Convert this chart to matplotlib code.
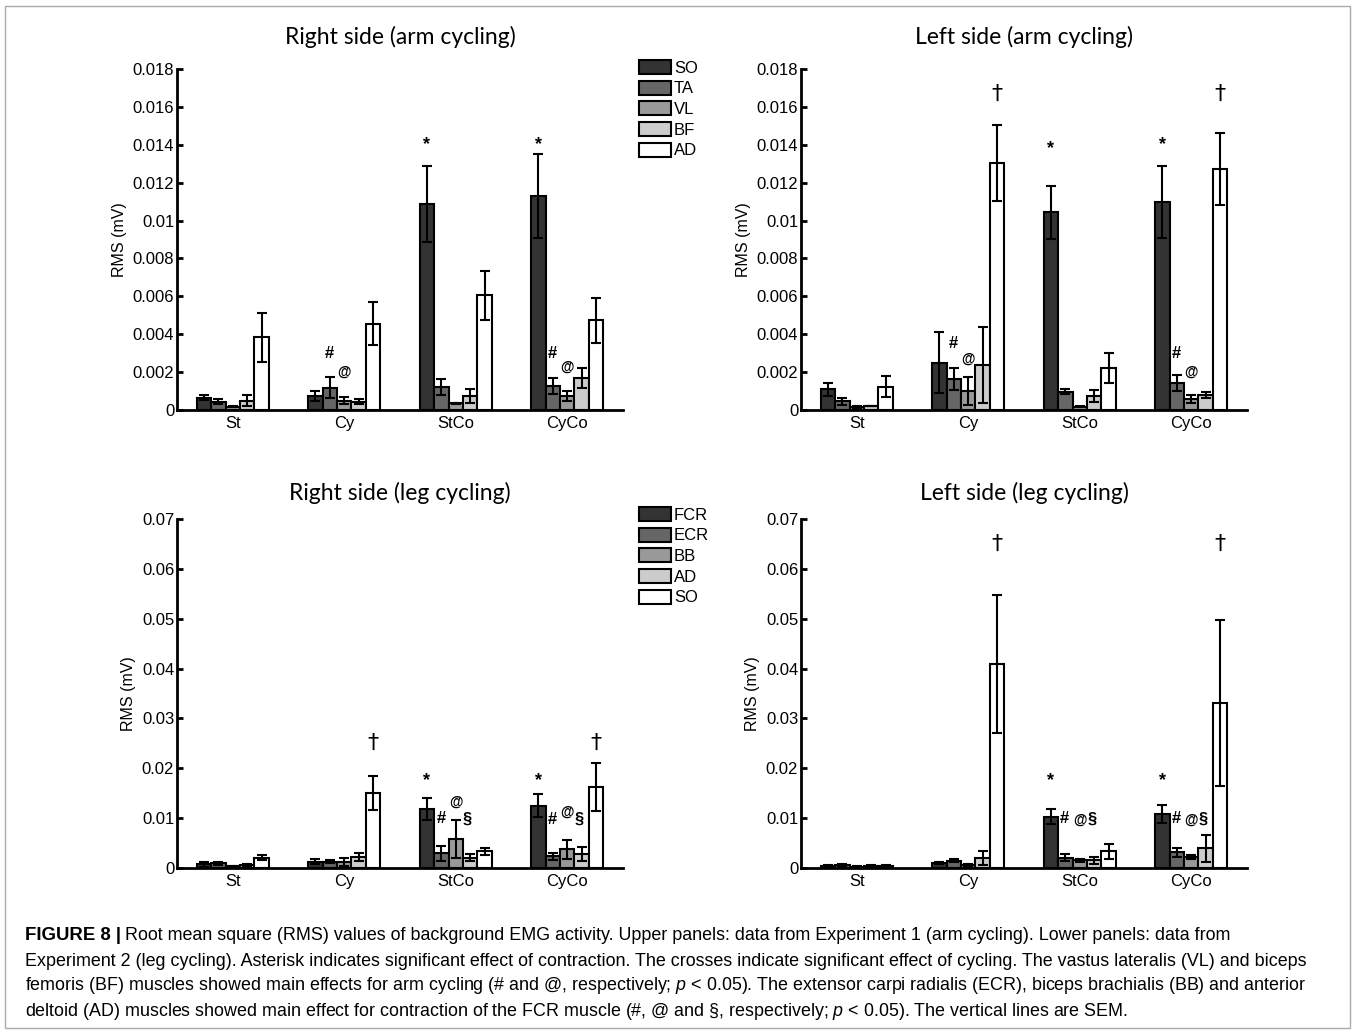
import matplotlib
matplotlib.use("Agg")
import matplotlib.pyplot as plt
import numpy as np
from matplotlib.patches import Rectangle

plt.rcParams['font.family'] = ['Liberation Sans', 'DejaVu Sans']
plt.rcParams['mathtext.fontset'] = 'custom'
plt.rcParams['mathtext.it'] = 'Liberation Sans:italic'

groups = ['St', 'Cy', 'StCo', 'CyCo']
arm_muscles = ['SO', 'TA', 'VL', 'BF', 'AD']
leg_muscles = ['FCR', 'ECR', 'BB', 'AD', 'SO']
colors = ['#333333', '#666666', '#999999', '#cccccc', '#ffffff']

# rows = groups (St, Cy, StCo, CyCo), columns = muscles
arm_right = [[0.00065, 0.00044, 0.00017, 0.00049, 0.00384],
             [0.00074, 0.00118, 0.00049, 0.00044, 0.00456],
             [0.01087, 0.00121, 0.00035, 0.00072, 0.00605],
             [0.0113, 0.00127, 0.00072, 0.00169, 0.00473]]
arm_right_err = [[0.00012, 0.00014, 0.00003, 0.0003, 0.0013],
                 [0.00026, 0.00056, 0.00018, 0.00014, 0.00114],
                 [0.002, 0.00044, 0.00003, 0.00037, 0.0013],
                 [0.0022, 0.0004, 0.00027, 0.00053, 0.0012]]
arm_left = [[0.00109, 0.00046, 0.00017, 0.00021, 0.00123],
            [0.0025, 0.00164, 0.00099, 0.00238, 0.01304],
            [0.01045, 0.00097, 0.00017, 0.00072, 0.00222],
            [0.01098, 0.00141, 0.0006, 0.00079, 0.01272]]
arm_left_err = [[0.00035, 0.00017, 0.00004, 0.00002, 0.00055],
                [0.0016, 0.0006, 0.00073, 0.002, 0.002],
                [0.0014, 0.00014, 0.00003, 0.00032, 0.00079],
                [0.0019, 0.00042, 0.00021, 0.00016, 0.0019]]
leg_right = [[0.0008, 0.00094, 0.0004, 0.00067, 0.00207],
             [0.00127, 0.00127, 0.00127, 0.00214, 0.015],
             [0.01183, 0.00294, 0.0058, 0.0021, 0.0034],
             [0.0125, 0.0024, 0.0038, 0.00274, 0.0163]]
leg_right_err = [[0.0005, 0.0003, 0.0001, 0.0002, 0.0005],
                 [0.0005, 0.0003, 0.0008, 0.0008, 0.0034],
                 [0.0023, 0.0015, 0.0038, 0.0007, 0.0007],
                 [0.0023, 0.0007, 0.0019, 0.0014, 0.0048]]
leg_left = [[0.0005, 0.0006, 0.0003, 0.0005, 0.0005],
            [0.00094, 0.0015, 0.0007, 0.0021, 0.0409],
            [0.0103, 0.0021, 0.0016, 0.0016, 0.0034],
            [0.0108, 0.0032, 0.0023, 0.004, 0.0331]]
leg_left_err = [[0.0002, 0.0002, 0.0001, 0.0002, 0.0002],
                [0.0002, 0.0003, 0.0002, 0.0014, 0.0138],
                [0.0015, 0.0007, 0.0003, 0.0007, 0.0015],
                [0.0018, 0.0009, 0.0004, 0.0027, 0.0166]]

# significance marks: (group index, bar position, y value, symbol)
arm_right_marks = [(2, 0, 0.0140, '*'), (3, 0, 0.0140, '*'),
                   (1, 1, 0.0030, '#'), (1, 2, 0.0020, '@'),
                   (3, 1, 0.0030, '#'), (3, 2, 0.0023, '@')]
arm_left_marks = [(2, 0, 0.0138, '*'), (3, 0, 0.0140, '*'),
                  (1, 4, 0.0167, '†'), (3, 4, 0.0167, '†'),
                  (1, 1, 0.0035, '#'), (1, 2, 0.0027, '@'),
                  (3, 1, 0.0030, '#'), (3, 2, 0.0020, '@')]
leg_right_marks = [(2, 0, 0.0175, '*'), (3, 0, 0.0175, '*'),
                   (1, 4, 0.0250, '†'), (3, 4, 0.0250, '†'),
                   (2, 1, 0.0100, '#'), (2, 2, 0.0132, '@'), (2, 2.8, 0.0098, '§'),
                   (3, 1, 0.0098, '#'), (3, 2, 0.0113, '@'), (3, 2.8, 0.0098, '§')]
leg_left_marks = [(2, 0, 0.0175, '*'), (3, 0, 0.0175, '*'),
                  (1, 4, 0.0650, '†'), (3, 4, 0.0650, '†'),
                  (2, 0.95, 0.0100, '#'), (2, 2, 0.0096, '@'), (2, 2.85, 0.0098, '§'),
                  (3, 0.95, 0.0100, '#'), (3, 2, 0.0096, '@'), (3, 2.85, 0.0098, '§')]

W = 1356
H = 1033
fig = plt.figure(figsize=(W / 100, H / 100), dpi=100)

bw = 0.13


def panel(rect, vals, errs, marks, title, ymax, ystep, tpad, legend_labels=None):
    ax = fig.add_axes(rect)
    vals = np.array(vals)
    errs = np.array(errs)
    x = np.arange(1, 5)
    for j in range(5):
        xs = x + (j - 2) * bw
        ax.bar(xs, vals[:, j], bw, color=colors[j], edgecolor='black',
               linewidth=1.5, label=legend_labels[j] if legend_labels else None,
               zorder=2)
        ax.errorbar(xs, vals[:, j], yerr=errs[:, j], fmt='none', ecolor='black',
                    elinewidth=1.5, capsize=3.3, capthick=1.5, zorder=3)
    for g, b, y, s in marks:
        xx = 1 + g + (b - 2) * bw
        if s == '*':
            ax.text(xx, y, s, ha='center', va='center', fontsize=13,
                    fontweight='bold')
        elif s == '†':
            ax.text(xx, y, s, ha='center', va='center', fontsize=16,
                    family=['DejaVu Sans'])
        elif s == '@':
            ax.text(xx, y, s, ha='center', va='center', fontsize=10,
                    fontweight='bold')
        else:
            ax.text(xx, y, s, ha='center', va='center', fontsize=12,
                    fontweight='bold')
    ax.set_xlim(0.5, 4.5)
    ax.set_ylim(0, ymax)
    yt = np.arange(0, ymax + ystep / 2, ystep)
    ax.set_yticks(yt)
    ax.set_yticklabels(['0'] + ['%g' % v for v in yt[1:]])
    ax.set_xticks(x)
    ax.set_xticklabels(groups)
    ax.spines['top'].set_visible(False)
    ax.spines['right'].set_visible(False)
    ax.spines['left'].set_linewidth(2)
    ax.spines['bottom'].set_linewidth(2)
    ax.tick_params(axis='y', direction='in', length=4, width=2, labelsize=12, pad=2)
    ax.tick_params(axis='x', length=0, labelsize=12, pad=4)
    ax.set_ylabel('RMS (mV)', fontsize=11.5, labelpad=4)
    ax.set_title(title, fontsize=16.5, family=['Lato', 'DejaVu Sans'], pad=tpad)
    return ax


ax1 = panel([177 / W, 1 - 410 / H, 446 / W, 341 / H], arm_right, arm_right_err,
            arm_right_marks, 'Right side (arm cycling)', 0.018, 0.002, 17.8, arm_muscles)
ax2 = panel([801 / W, 1 - 410 / H, 446 / W, 341 / H], arm_left, arm_left_err,
            arm_left_marks, 'Left side (arm cycling)', 0.018, 0.002, 17.8)
ax3 = panel([177 / W, 1 - 868 / H, 446 / W, 349 / H], leg_right, leg_right_err,
            leg_right_marks, 'Right side (leg cycling)', 0.07, 0.01, 13.5, leg_muscles)
ax4 = panel([801 / W, 1 - 868 / H, 446 / W, 349 / H], leg_left, leg_left_err,
            leg_left_marks, 'Left side (leg cycling)', 0.07, 0.01, 13.5)

for ax, ytop in [(ax1, 60), (ax3, 507)]:
    ax.legend(loc='upper left', bbox_to_anchor=(639 / W, 1 - ytop / H),
              bbox_transform=fig.transFigure, frameon=False, fontsize=12,
              handlelength=1.9, handleheight=0.9, handletextpad=0.2,
              labelspacing=0.3, borderpad=0, borderaxespad=0)

# outer border
fig.patches.append(Rectangle((5 / W, 5 / H), 1345 / W, 1022 / H,
                             transform=fig.transFigure, fill=False,
                             edgecolor='#aaaaaa', linewidth=1))

# caption
cap_font = ['Liberation Sans', 'DejaVu Sans']
lines = [
    'Root mean square (RMS) values of background EMG activity. Upper panels: data from Experiment 1 (arm cycling). Lower panels: data from',
    'Experiment 2 (leg cycling). Asterisk indicates significant effect of contraction. The crosses indicate significant effect of cycling. The vastus lateralis (VL) and biceps',
    'femoris (BF) muscles showed main effects for arm cycling (# and @, respectively; $p$ < 0.05). The extensor carpi radialis (ECR), biceps brachialis (BB) and anterior',
    'deltoid (AD) muscles showed main effect for contraction of the FCR muscle (#, @ and §, respectively; $p$ < 0.05). The vertical lines are SEM.',
]
# fit the longest caption line to the width it has in the reference
probe = fig.text(0, 0, lines[1], family=cap_font, fontsize=13)
fig.canvas.draw()
cap_size = 13 * 1281 / probe.get_window_extent().width
probe.remove()

head = fig.text(25 / W, 1 - 936 / H, 'FIGURE 8 |', family=cap_font, fontweight='bold',
                fontsize=cap_size + 0.5, va='center', ha='left')
fig.canvas.draw()
bb = head.get_window_extent()
fig.text((bb.x1 + 4) / W, 1 - 936 / H, lines[0], family=cap_font, fontsize=cap_size,
         va='center', ha='left')
for i, ln in enumerate(lines[1:]):
    fig.text(25 / W, 1 - (961 + 25 * i) / H, ln, family=cap_font, fontsize=cap_size,
             va='center', ha='left')

fig.savefig('out.png', dpi=100)
